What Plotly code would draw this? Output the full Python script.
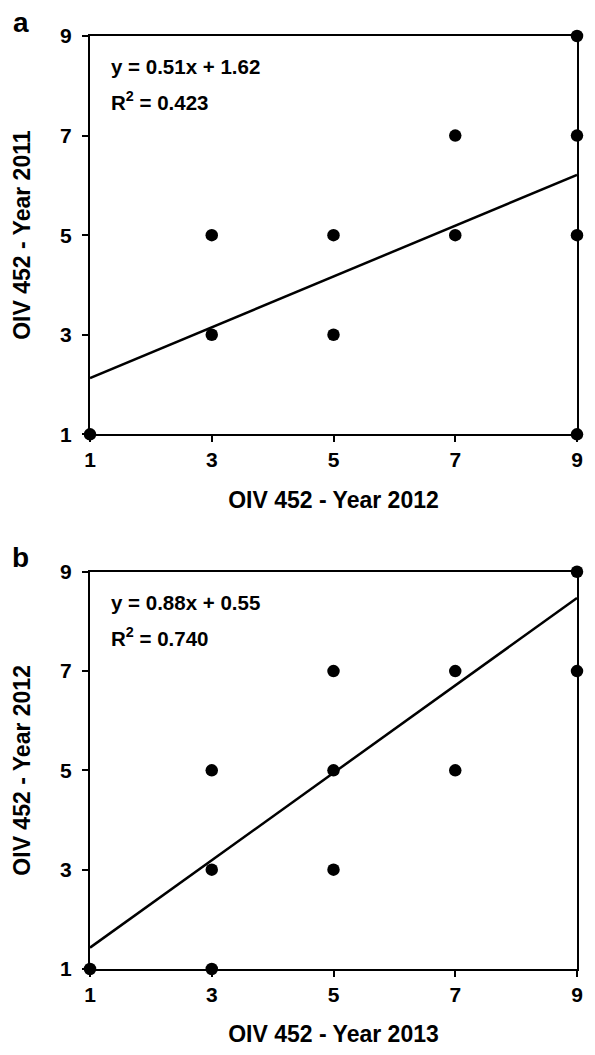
import plotly.graph_objects as go
from plotly.subplots import make_subplots

# Panel a: OIV 452, 2012 (x) vs 2011 (y)
a_x = [1, 3, 3, 5, 5, 7, 7, 9, 9, 9, 9]
a_y = [1, 3, 5, 3, 5, 5, 7, 1, 5, 7, 9]
a_slope, a_intercept, a_r2 = 0.51, 1.62, 0.423

# Panel b: OIV 452, 2013 (x) vs 2012 (y)
b_x = [1, 3, 3, 3, 5, 5, 5, 7, 7, 9, 9]
b_y = [1, 1, 3, 5, 3, 5, 7, 5, 7, 7, 9]
b_slope, b_intercept, b_r2 = 0.88, 0.55, 0.740

ticks = [1, 3, 5, 7, 9]
fit_x = [1, 9]

FONT = "Liberation Sans, Arial, sans-serif"

fig = make_subplots(rows=2, cols=1, vertical_spacing=0.1)

panels = [
    (a_x, a_y, a_slope, a_intercept, a_r2, "OIV 452 - Year 2012", "OIV 452 - Year 2011", "a"),
    (b_x, b_y, b_slope, b_intercept, b_r2, "OIV 452 - Year 2013", "OIV 452 - Year 2012", "b"),
]

domains = [[0.5731, 1.0], [0.0, 0.4258]]

for i, (px, py, m, c, r2, xt, yt, lab) in enumerate(panels, start=1):
    fig.add_trace(go.Scatter(x=[fit_x[0], fit_x[1]], y=[m * fit_x[0] + c, m * fit_x[1] + c],
                             mode="lines", line=dict(color="black", width=2.5),
                             showlegend=False, cliponaxis=False), row=i, col=1)
    fig.add_trace(go.Scatter(x=px, y=py, mode="markers",
                             marker=dict(color="black", size=12.5),
                             showlegend=False, cliponaxis=False), row=i, col=1)
    axis_common = dict(range=[1, 9], tickvals=ticks, showgrid=False, zeroline=False,
                       showline=True, linecolor="black", linewidth=2, mirror=True,
                       ticks="outside", ticklen=6, tickwidth=1.5, tickcolor="black",
                       tickfont=dict(family=FONT, size=21, color="black", weight="bold"))
    fig.update_xaxes(**axis_common, title=dict(text="<b>" + xt + "</b>", standoff=21,
                     font=dict(family=FONT, size=23, color="black")), row=i, col=1)
    fig.update_yaxes(**axis_common, domain=domains[i - 1], ticklabelstandoff=6,
                     title=dict(text="<b>" + yt + "</b>", standoff=23,
                     font=dict(family=FONT, size=23, color="black")), row=i, col=1)
    xref = "x" if i == 1 else "x2"
    yref = "y" if i == 1 else "y2"
    fig.add_annotation(x=0.04, y=0.923, xref=xref + " domain", yref=yref + " domain",
                       text="<b>y = %.2fx + %.2f</b>" % (m, c), showarrow=False,
                       xanchor="left", yanchor="middle",
                       font=dict(family=FONT, size=20.5, color="black"))
    fig.add_annotation(x=0.04, y=0.836, xref=xref + " domain", yref=yref + " domain",
                       text="<b>R<sup>2</sup> = %.3f</b>" % r2, showarrow=False,
                       xanchor="left", yanchor="middle",
                       font=dict(family=FONT, size=20.5, color="black"))
    fig.add_annotation(x=-0.142, y=1.035, xref=xref + " domain", yref=yref + " domain",
                       text="<b>" + lab + "</b>", showarrow=False,
                       xanchor="center", yanchor="middle",
                       font=dict(family=FONT, size=28, color="black"))

fig.update_layout(width=595, height=1055, plot_bgcolor="white", paper_bgcolor="white",
                  margin=dict(l=90, r=14, t=36, b=75))

fig.write_html("out.html", config={"displayModeBar": False},
               post_script="document.body.style.margin='0';document.body.style.padding='0';")
